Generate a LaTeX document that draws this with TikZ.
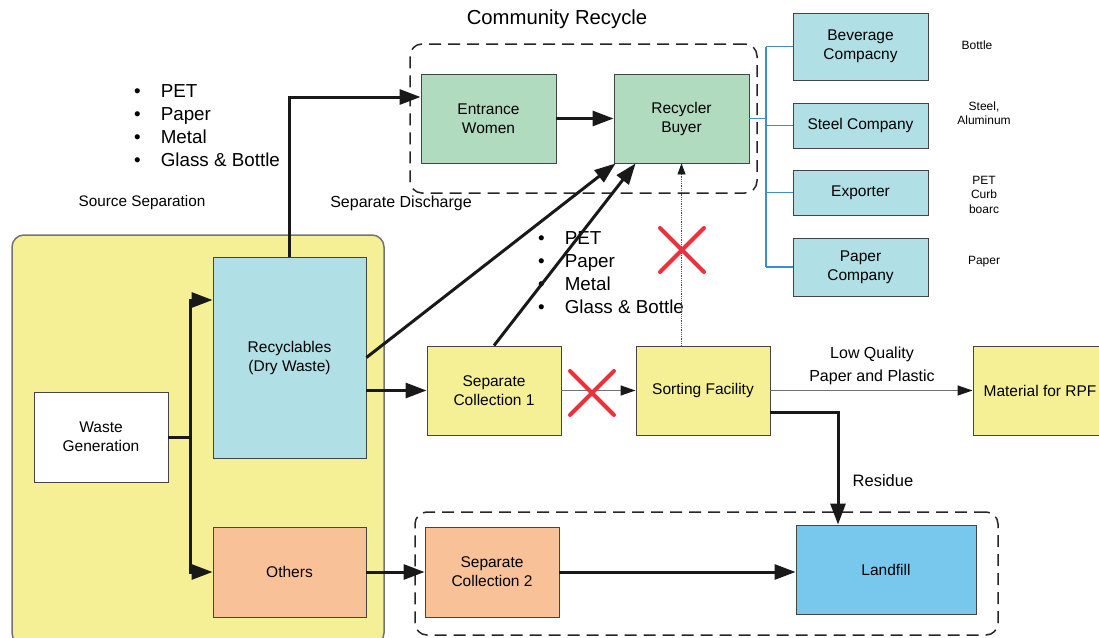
\documentclass[tikz,border=0pt]{standalone}
\usepackage{fontspec}
\setmainfont{Liberation Sans}
\usetikzlibrary{arrows.meta}
\definecolor{bigyellow}{HTML}{F5F096}
\definecolor{ltblue}{HTML}{B0DFE6}
\definecolor{ltgreen}{HTML}{B0DBBF}
\definecolor{ltorange}{HTML}{F9C197}
\definecolor{fillblue}{HTML}{78C8EE}
\definecolor{redx}{HTML}{E8323C}
\definecolor{treeblue}{HTML}{3A8FD0}
\definecolor{boxline}{HTML}{444444}
\begin{document}
\begin{tikzpicture}[x=1pt,y=-1pt,
  box/.style={draw=boxline, line width=0.9pt, inner sep=0pt, align=center,
    font=\fontsize{15.5}{19}\selectfont},
  area/.style={inner sep=0pt, line width=1.5pt, rounded corners=12pt},
  dasharea/.style={area, draw=black!85, dash pattern=on 12pt off 7pt},
  thk/.style={line width=3pt, draw=black!90, -{Triangle[length=21pt,width=15pt]}},
  thkline/.style={line width=3pt, draw=black!90},
  thin/.style={line width=1.3pt, draw=black!55, -{Triangle[length=15pt,width=10pt,color=black!90]}},
  dotarrow/.style={line width=0.8pt, draw=black!70, densely dotted, -{Triangle[length=11pt,width=8pt,color=black!90]}},
  treeline/.style={line width=1.2pt, draw=treeblue},
  redcross/.style={line width=4pt, draw=redx, line cap=round},
  lbl/.style={inner sep=0pt, align=center, font=\fontsize{16}{23}\selectfont},
  small/.style={inner sep=0pt, align=center, font=\fontsize{12}{14.5}\selectfont},
  blist/.style={inner sep=0pt, anchor=west, font=\fontsize{18.8}{23}\selectfont}
]
\useasboundingbox (0,0) rectangle (1099,637);

% background areas
\node (srcarea) [area, draw=black!55, fill=bigyellow, minimum width=372pt, minimum height=410pt] at (198,440) {};
\node (commarea) [dasharea, minimum width=347pt, minimum height=149pt] at (583.5,118.5) {};
\node (landarea) [dasharea, minimum width=583pt, minimum height=123pt] at (706.5,573.5) {};

% boxes
\node (waste) [box, fill=white, minimum width=134pt, minimum height=90pt] at (101,437) {Waste\\Generation};
\node (recyc) [box, fill=ltblue, minimum width=153pt, minimum height=201pt] at (289.5,357.5) {Recyclables\\(Dry Waste)};
\node (others) [box, fill=ltorange, minimum width=153pt, minimum height=90pt] at (289.5,572) {Others};
\node (entrance) [box, fill=ltgreen, minimum width=135pt, minimum height=89pt] at (488.5,118.5) {Entrance\\Women};
\node (buyer) [box, fill=ltgreen, minimum width=135pt, minimum height=89pt] at (681.5,118.5) {Recycler\\Buyer};
\node (bev) [box, fill=ltblue, minimum width=135pt, minimum height=67pt] at (860.5,46.5) {Beverage\\Compacny};
\node (steel) [box, fill=ltblue, minimum width=135pt, minimum height=45pt] at (860.5,125.5) {Steel Company};
\node (exporter) [box, fill=ltblue, minimum width=135pt, minimum height=45pt] at (860.5,192.5) {Exporter};
\node (paperco) [box, fill=ltblue, minimum width=135pt, minimum height=58pt] at (860.5,267) {Paper\\Company};
\node (sc1) [box, fill=bigyellow, minimum width=134pt, minimum height=89pt] at (494,390.5) {Separate\\Collection 1};
\node (sorting) [box, fill=bigyellow, minimum width=134pt, minimum height=89pt] at (703,390.5) {Sorting Facility};
\node (rpf) [box, fill=bigyellow, minimum width=134pt, minimum height=89pt] at (1040,390.5) {Material for RPF};
\node (sc2) [box, fill=ltorange, minimum width=134pt, minimum height=90pt] at (492,572) {Separate\\Collection 2};
\node (landfill) [box, fill=fillblue, minimum width=180pt, minimum height=89pt] at (886,569.5) {Landfill};

% labels
\node (commlbl) [lbl, font=\fontsize{20.3}{23}\selectfont] at (557,19) {Community Recycle};
\node (srclbl) [lbl, font=\fontsize{15.3}{18}\selectfont] at (142,203) {Source Separation};
\node (disclbl) [lbl] at (401,203) {Separate Discharge};
\node (lowq) [lbl] at (872,366) {Low Quality\\Paper and Plastic};
\node (residue) [lbl, font=\fontsize{16.5}{20}\selectfont] at (883,481) {Residue};
\node (bottlelbl) [small] at (977,45) {Bottle};
\node (steellbl) [small] at (984,113) {Steel,\\Aluminum};
\node (petlbl) [small] at (984,194.5) {PET\\Curb\\boarc};
\node (paperlbl) [small] at (984,262) {Paper};

\node (list1) [blist] at (134,127.5) {\begin{tabular}{@{}l@{\hspace{20pt}}l@{}}\textbullet & PET\\ \textbullet & Paper\\ \textbullet & Metal\\ \textbullet & Glass \& Bottle\end{tabular}};
\node (list2) [blist] at (538,274) {\begin{tabular}{@{}l@{\hspace{20pt}}l@{}}\textbullet & PET\\ \textbullet & Paper\\ \textbullet & Metal\\ \textbullet & Glass \& Bottle\end{tabular}};

% connectors
\coordinate (jw) at (190,437);
\draw[thkline] (waste.east) -- (jw);
\draw[thk] (jw) |- ([yshift=57.5pt]recyc.west);
\draw[thk] (jw) |- (others.west);
\draw[thk] (recyc.north) |- ([yshift=21.5pt]entrance.west);
\draw[thk] (recyc.east) -- ([xshift=2pt]buyer.south west);
\draw[thk] (recyc.east |- sc1.west) -- (sc1.west);
\draw[thk] (sc1.north) -- ([xshift=22pt]buyer.south west);
\draw[thin] (sc1.east) -- (sorting.west);
\draw[dotarrow] (buyer.south |- sorting.north) -- (buyer.south);
\draw[thin] (sorting.east) -- (rpf.west);
\draw[thk] ([yshift=-21.5pt]sorting.east) -| ([xshift=-48pt]landfill.north);
\draw[thk] (others.east) -- (sc2.west);
\draw[thk] (sc2.east) -- (landfill.west |- sc2.east);
\draw[thk] (entrance.east) -- (buyer.west);

% blue tree
\coordinate (bx) at (766,118.5);
\draw[treeline] (buyer.east) -- (bx);
\draw[treeline] (bx |- bev.west) -- (bx |- paperco.west);
\draw[treeline] (bx |- bev.west) -- (bev.west);
\draw[treeline] (bx |- steel.west) -- (steel.west);
\draw[treeline] (bx |- exporter.west) -- (exporter.west);
\draw[treeline] (bx |- paperco.west) -- (paperco.west);

% red crosses
\draw[redcross] (570,371) -- (614,415);
\draw[redcross] (614,371) -- (570,415);
\draw[redcross] (660,228) -- (704,272);
\draw[redcross] (704,228) -- (660,272);
\end{tikzpicture}
\end{document}
